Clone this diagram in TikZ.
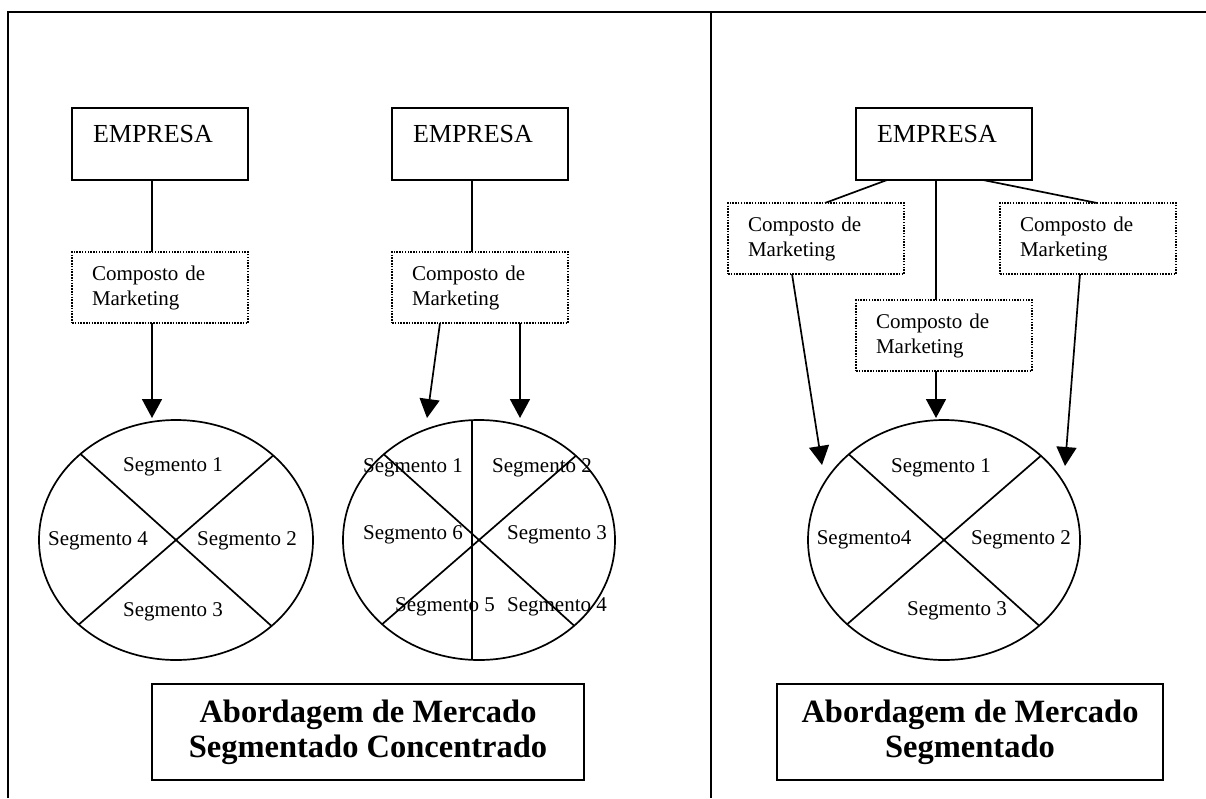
\documentclass[tikz,border=0pt]{standalone}
\usepackage{fontspec}
\setmainfont{Liberation Serif}
\usetikzlibrary{arrows.meta,shapes.geometric}
\begin{document}
\begin{tikzpicture}[x=1pt,y=-1pt,
  frame/.style={line width=1.8pt},
  empbox/.style={draw, line width=1.7pt, anchor=north west, inner xsep=21pt, inner ysep=0pt,
    text width=134pt, text height=34.6pt, text depth=37.4pt, align=left,
    font=\fontsize{26}{30}\selectfont, outer sep=0pt},
  mkbox/.style={draw, line width=1.5pt, dash pattern=on 1.5pt off 1.3pt, anchor=north west,
    inner xsep=20pt, inner ysep=0pt, text width=136pt, minimum height=71pt, align=left,
    font=\fontsize{21}{25}\selectfont, outer sep=0pt},
  segell/.style={ellipse, draw, line width=1.7pt, minimum width=272pt, minimum height=240pt,
    outer sep=0pt, inner sep=0pt},
  lab/.style={font=\fontsize{21}{25}\selectfont, inner sep=0pt},
  conn/.style={line width=1.7pt},
  arr/.style={line width=1.7pt, -{Triangle[length=19pt,width=20pt]}},
  titlebox/.style={draw, line width=1.6pt, minimum height=96pt, align=center,
    font=\fontsize{32.5}{35}\selectfont\bfseries, outer sep=0pt, inner sep=0pt}
]
\useasboundingbox (0,0) rectangle (1206,798);
% frame
\coordinate (fBL) at (8,798);
\coordinate (fTL) at (8,12);
\coordinate (fTR) at (1206,12);
\coordinate (dT) at (711,12);
\coordinate (dB) at (711,798);
\draw[frame] (fBL) -- (fTL) -- (fTR);
\draw[frame] (dT) -- (dB);

% ---------- left panel, diagram 1 ----------
\node[empbox] (emp1) at (72,108) {EMPRESA};
\node[mkbox] (mk1) at (72,252) {Composto de\\Marketing};
\node[segell] (e1) at (176,540) [minimum width=274pt] {};
\draw[conn] ([xshift=-8pt]emp1.south) -- ([xshift=-8pt]mk1.north);
\coordinate (t1) at (152,418);
\draw[arr] ([xshift=-8pt]mk1.south) -- (t1);
\draw[conn] (e1.138.8) -- (e1.318.8);
\draw[conn] (e1.41.2) -- (e1.221.2);
\node[lab] (e1s1) at (173,467) {Segmento 1};
\node[lab] (e1s4) at (98,541) {Segmento 4};
\node[lab] (e1s2) at (247,541) {Segmento 2};
\node[lab] (e1s3) at (173,612) {Segmento 3};

% ---------- left panel, diagram 2 ----------
\node[empbox] (emp2) at (392,108) {EMPRESA};
\node[mkbox] (mk2) at (392,252) {Composto de\\Marketing};
\node[segell] (e2) at (479,540) {};
\draw[conn] ([xshift=-8pt]emp2.south) -- ([xshift=-8pt]mk2.north);
\coordinate (t2a) at (427,418);
\coordinate (t2b) at (520,418);
\draw[arr] ([xshift=-40pt]mk2.south) -- (t2a);
\draw[arr] ([xshift=40pt]mk2.south) -- (t2b);
\draw[conn] (e2.138.6) -- (e2.318.6);
\draw[conn] (e2.41.4) -- (e2.221.4);
\draw[conn] ([xshift=-7pt]e2.north) -- ([xshift=-7pt]e2.south);
\node[lab] (e2s1) at (413,468) {Segmento 1};
\node[lab] (e2s2) at (542,468) {Segmento 2};
\node[lab] (e2s6) at (413,535) {Segmento 6};
\node[lab] (e2s3) at (557,535) {Segmento 3};
\node[lab] (e2s5) at (445,607) {Segmento 5};
\node[lab] (e2s4) at (557,607) {Segmento 4};

\node[titlebox, minimum width=432pt] (tt1) at (368,732) {Abordagem de Mercado\\Segmentado Concentrado};

% ---------- right panel ----------
\node[empbox] (emp3) at (856,108) {EMPRESA};
\node[mkbox] (mkL) at (728,203) {Composto de\\Marketing};
\node[mkbox] (mkR) at (1000,203) {Composto de\\Marketing};
\node[mkbox] (mkM) at (856,300) {Composto de\\Marketing};
\node[segell] (e3) at (944,540) {};
\draw[conn] ([xshift=-57pt]emp3.south) -- ([xshift=9pt]mkL.north);
\draw[conn] ([xshift=-8pt]emp3.south) -- ([xshift=-8pt]mkM.north);
\draw[conn] ([xshift=39pt]emp3.south) -- ([xshift=9pt]mkR.north);
\coordinate (t3L) at (822,465);
\coordinate (t3M) at (936,418);
\coordinate (t3R) at (1065,466);
\draw[arr] ([xshift=-24pt]mkL.south) -- (t3L);
\draw[arr] ([xshift=-8pt]mkM.south) -- (t3M);
\draw[arr] ([xshift=-8pt]mkR.south) -- (t3R);
\draw[conn] (e3.138.6) -- (e3.318.6);
\draw[conn] (e3.41.4) -- (e3.221.4);
\node[lab] (e3s1) at (941,468) {Segmento 1};
\node[lab] (e3s4) at (864,540) {Segmento4};
\node[lab] (e3s2) at (1021,540) {Segmento 2};
\node[lab] (e3s3) at (957,611) {Segmento 3};

\node[titlebox, minimum width=386pt] (tt2) at (970,732) {Abordagem de Mercado\\Segmentado};
\end{tikzpicture}
\end{document}
